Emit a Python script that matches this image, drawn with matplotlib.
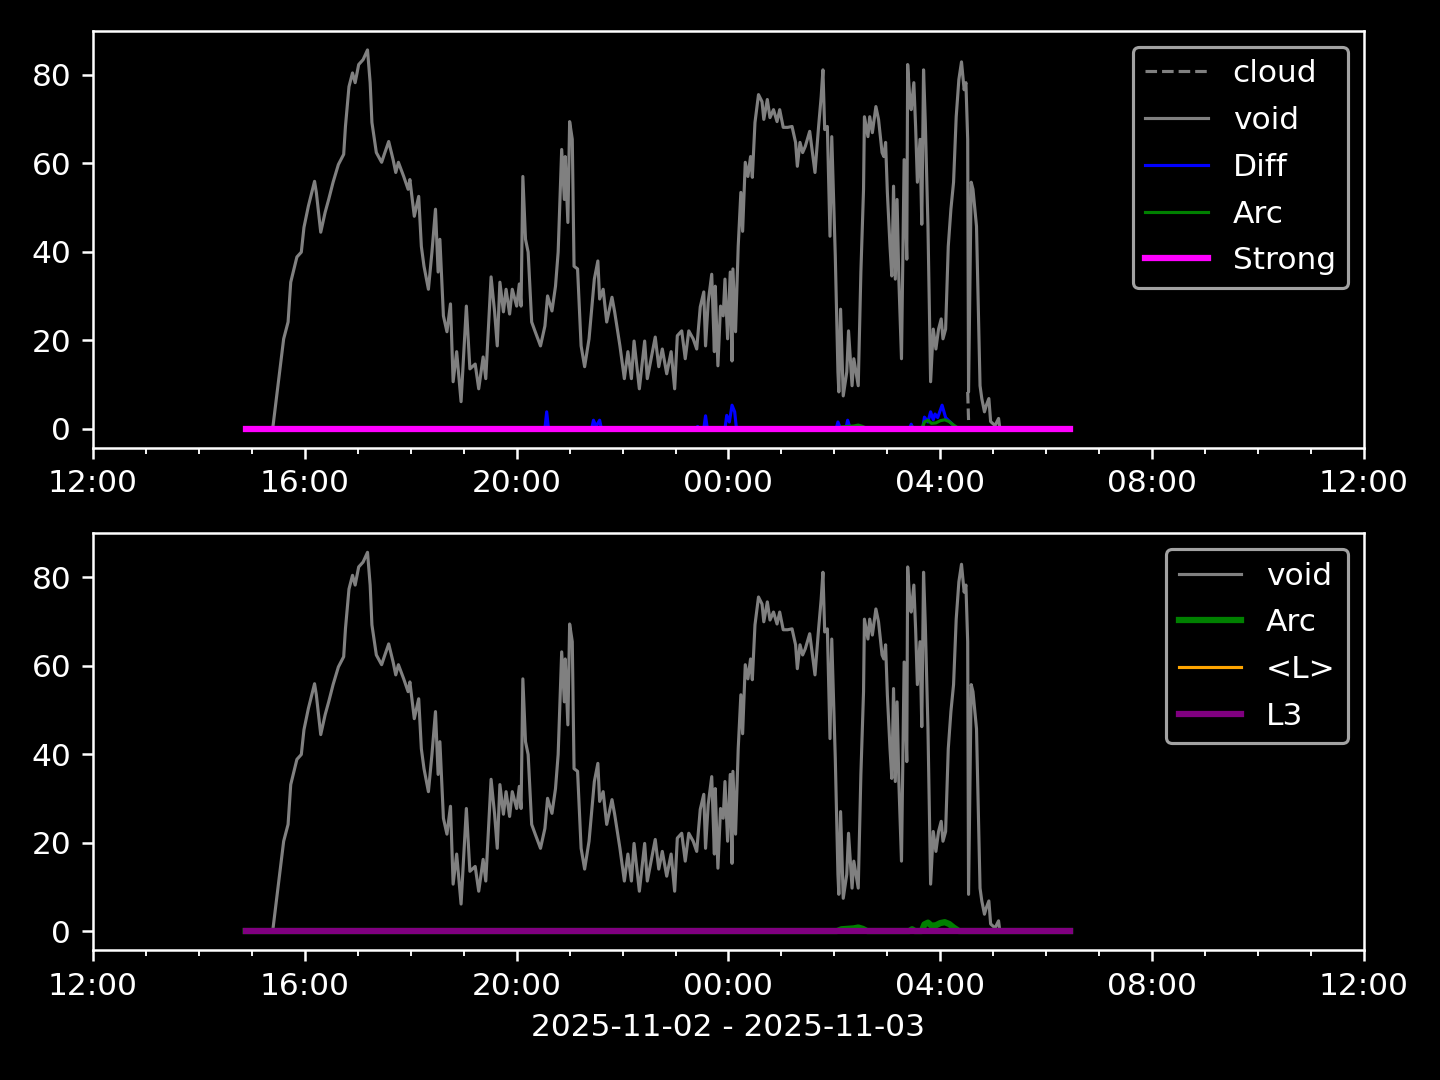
import pandas as pd
import matplotlib.pyplot as plt
import matplotlib.dates as mdates

plt.style.use('dark_background')

day0 = '2025-11-02'

# void signal (gray)
void_t = ['14:53', '15:23', '15:24', '15:30', '15:36', '15:41', '15:44', '15:51', '15:56', '15:59',
          '16:04', '16:11', '16:13', '16:18', '16:23', '16:27', '16:32', '16:38', '16:44', '16:46',
          '16:50', '16:54', '16:57', '17:01', '17:06', '17:11', '17:14', '17:16', '17:21', '17:27',
          '17:30', '17:35', '17:40', '17:43', '17:46', '17:52', '17:57', '17:59', '18:04', '18:09',
          '18:12', '18:15', '18:20', '18:24', '18:28', '18:31', '18:33', '18:37', '18:41', '18:45',
          '18:48', '18:52', '18:57', '19:03', '19:07', '19:13', '19:17', '19:22', '19:25', '19:31',
          '19:35', '19:38', '19:41', '19:45', '19:48', '19:52', '19:55', '20:00', '20:03', '20:05',
          '20:07', '20:10', '20:13', '20:17', '20:21', '20:27', '20:32', '20:35', '20:40', '20:44',
          '20:47', '20:51', '20:54', '20:55', '20:58', '21:00', '21:03', '21:05', '21:09', '21:13',
          '21:17', '21:22', '21:28', '21:32', '21:34', '21:38', '21:42', '21:48', '21:51', '21:57',
          '22:02', '22:06', '22:10', '22:13', '22:19', '22:25', '22:28', '22:33', '22:37', '22:41',
          '22:45', '22:50', '22:55', '22:59', '23:02', '23:07', '23:11', '23:15', '23:20', '23:24',
          '23:28', '23:32', '23:34', '23:37', '23:41', '23:44', '23:45', '23:48', '23:51', '23:54',
          '23:56', '23:59', '00:02', '00:04', '00:05', '00:08', '00:11', '00:14', '00:16', '00:19',
          '00:22', '00:25', '00:27', '00:30', '00:34', '00:38', '00:40', '00:44', '00:47', '00:51',
          '00:55', '00:58', '01:02', '01:07', '01:12', '01:16', '01:18', '01:21', '01:24', '01:27',
          '01:32', '01:38', '01:42', '01:45', '01:47', '01:49', '01:52', '01:55', '01:57', '02:01',
          '02:04', '02:05', '02:07', '02:10', '02:14', '02:16', '02:20', '02:22', '02:27', '02:30',
          '02:33', '02:34', '02:38', '02:40', '02:43', '02:47', '02:50', '02:54', '02:56', '02:58',
          '03:00', '03:03', '03:05', '03:07', '03:09', '03:11', '03:13', '03:16', '03:19', '03:22',
          '03:23', '03:26', '03:27', '03:30', '03:32', '03:34', '03:37', '03:39', '03:41', '03:43',
          '03:46', '03:49', '03:52', '03:55', '03:58', '04:01', '04:03', '04:06', '04:09', '04:12',
          '04:15', '04:18', '04:21', '04:24', '04:27', '04:29', '04:31', '04:32', '04:35', '04:37',
          '04:41', '04:45', '04:47', '04:50', '04:52', '04:55', '04:57', '05:02', '05:06', '05:07']
void_v = [0, 0, 0.7, 10.6, 20.3, 24.1, 33.1, 38.8, 39.9, 45.5,
          50.3, 55.9, 53.4, 44.4, 48.9, 51.8, 55.7, 59.7, 62.0, 68.3,
          77.3, 80.4, 78.2, 82.3, 83.4, 85.6, 78.2, 69.2, 62.4, 60.2,
          62.0, 64.9, 60.8, 57.9, 60.2, 57.0, 54.1, 56.3, 48.0, 52.5,
          41.2, 36.7, 31.5, 39.9, 49.6, 35.4, 42.8, 25.5, 21.9, 28.2,
          10.6, 17.4, 6.1, 27.7, 13.5, 14.6, 9.0, 16.2, 11.3, 34.3,
          26.4, 18.7, 33.1, 26.4, 31.5, 25.9, 31.5, 27.7, 32.7, 27.7,
          57.0, 42.8, 39.9, 24.1, 21.9, 18.7, 23.2, 30.0, 26.6, 32.2,
          39.9, 63.1, 51.8, 61.5, 46.6, 69.4, 65.4, 36.7, 36.1, 18.7,
          14.0, 20.3, 33.8, 37.9, 29.3, 31.5, 24.1, 29.7, 26.4, 18.7,
          11.3, 17.4, 11.3, 19.8, 9.0, 19.8, 11.3, 16.5, 20.7, 14.0,
          18.0, 12.4, 17.4, 9.0, 21.0, 22.1, 15.8, 22.1, 20.3, 18.0,
          27.5, 30.9, 18.7, 28.6, 34.9, 17.4, 32.2, 14.2, 27.7, 25.5,
          33.8, 20.3, 35.4, 15.3, 36.1, 21.9, 41.2, 53.4, 44.6, 60.2,
          57.0, 61.5, 56.8, 69.2, 75.5, 73.9, 69.9, 74.4, 70.3, 72.1,
          69.4, 72.1, 68.1, 68.1, 68.3, 64.7, 59.3, 64.7, 62.4, 63.8,
          67.2, 57.9, 68.1, 75.0, 81.1, 67.6, 68.3, 43.5, 66.0, 39.0,
          12.8, 8.3, 27.0, 7.4, 12.8, 22.1, 9.7, 15.8, 9.7, 35.4,
          54.1, 70.5, 66.0, 70.5, 66.9, 72.8, 69.9, 62.4, 61.5, 64.7,
          53.4, 41.2, 34.5, 54.8, 33.8, 51.8, 33.8, 15.8, 60.8, 38.3,
          82.3, 72.8, 72.1, 78.2, 68.3, 55.7, 65.4, 46.2, 81.1, 69.2,
          45.7, 10.6, 22.5, 18.0, 22.5, 24.8, 20.3, 22.5, 41.2, 49.6,
          55.7, 70.5, 78.9, 82.9, 76.6, 78.2, 65.4, 8.3, 55.7, 54.1,
          45.7, 9.7, 6.8, 3.8, 5.2, 6.8, 1.6, 0.7, 2.3, 0.7]

cloud_t = ['04:31', '04:32']
cloud_v = [8.3, 1.9]

diff_t = ['14:53', '20:32', '20:34', '20:36', '21:25', '21:27', '21:30', '21:34', '21:36',
          '23:23', '23:25', '23:27', '23:32', '23:34', '23:36', '23:56', '23:58', '00:01',
          '00:04', '00:07', '00:09', '02:02', '02:04', '02:07', '02:13', '02:15', '02:18',
          '03:25', '03:27', '03:29', '03:40', '03:42', '03:46', '03:49', '03:52', '03:54',
          '03:57', '04:02', '04:06', '04:11', '04:19', '06:27']
diff_v = [0, 0, 3.8, 0, 0, 1.9, 0.5, 1.9, 0,
          0, 0.5, 0, 0, 2.9, 0, 0, 3.0, 1.5,
          5.3, 3.8, 0, 0, 1.5, 0, 0, 1.9, 0,
          0, 1.0, 0, 0, 2.6, 1.5, 3.8, 2.0, 3.3,
          2.5, 5.3, 2.5, 1.5, 0, 0]

arc_t = ['14:53', '02:03', '02:08', '02:15', '02:22', '02:27', '02:32', '02:37', '03:25', '03:28',
         '03:31', '03:39', '03:42', '03:46', '03:50', '03:55', '04:00', '04:05', '04:10', '04:15',
         '04:21', '06:27']
arc_v = [0, 0, 0.4, 0.5, 0.6, 0.8, 0.5, 0, 0, 0.4,
         0, 0, 1.5, 1.9, 1.2, 1.3, 1.8, 2.0, 1.6, 0.8,
         0, 0]

flat_t = ['14:53', '06:27']
strong_v = [0, 0]
meanL_v = [0, 0]
l3_v = [0, 0]


def to_times(hhmm):
    out = []
    for s in hhmm:
        ts = pd.Timestamp(day0 + ' ' + s)
        if ts.hour < 12:
            ts += pd.Timedelta(days=1)
        out.append(ts)
    return out


fig, (ax1, ax2) = plt.subplots(2, 1, figsize=(6.4, 4.8), dpi=225)
fig.subplots_adjust(left=0.0646, right=0.9472, top=0.9713, bottom=0.1204, hspace=0.206)

ax1.plot(to_times(cloud_t), cloud_v, color='gray', ls='--', lw=1, label='cloud')
ax1.plot(to_times(void_t), void_v, color='gray', lw=1, label='void')
ax1.plot(to_times(diff_t), diff_v, color='blue', lw=1, label='Diff')
ax1.plot(to_times(arc_t), arc_v, color='green', lw=1, label='Arc')
ax1.plot(to_times(flat_t), strong_v, color='magenta', lw=2, label='Strong')

ax2.plot(to_times(void_t), void_v, color='gray', lw=1, label='void')
ax2.plot(to_times(arc_t), arc_v, color='green', lw=2, label='Arc')
ax2.plot(to_times(flat_t), meanL_v, color='orange', lw=1, label='<L>')
ax2.plot(to_times(flat_t), l3_v, color='purple', lw=2, label='L3')

for ax in (ax1, ax2):
    ax.set_xlim(pd.Timestamp(day0 + ' 12:00'), pd.Timestamp('2025-11-03 12:00'))
    ax.xaxis.set_major_locator(mdates.HourLocator(byhour=range(0, 24, 4)))
    ax.xaxis.set_minor_locator(mdates.HourLocator())
    ax.xaxis.set_major_formatter(mdates.DateFormatter('%H:%M'))
    ax.legend(loc='upper right', labelspacing=0.57)

ax2.set_xlabel('2025-11-02 - 2025-11-03')
plt.savefig('out.png')
